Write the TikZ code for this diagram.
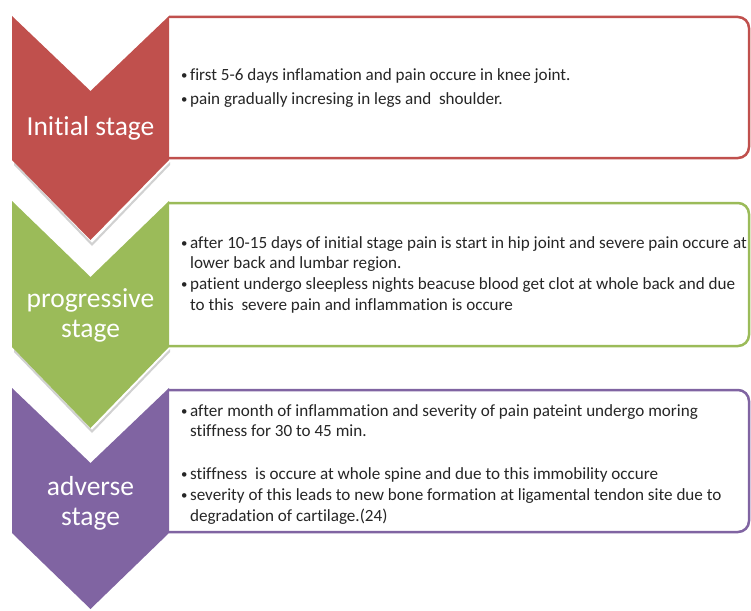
\documentclass[tikz,border=0pt]{standalone}
\usepackage{fontspec}
\setmainfont{Carlito}[Ligatures=NoCommon]
\usepackage{graphicx}
\definecolor{cred}{HTML}{C0504D}
\definecolor{cgreen}{HTML}{9BBB59}
\definecolor{cpurple}{HTML}{8064A2}
\newcommand{\bul}{\raisebox{1pt}{\scalebox{0.75}{\textbullet}}}
\tikzset{
  stagebox/.style={draw=#1, line width=2.5pt, fill=white},
  chevshape/.style={fill=#1},
  chevshadow/.style={fill=black, opacity=0.18},
  stagelabel/.style={text=white, align=center, inner sep=0pt,
    font=\fontsize{27.5}{30}\selectfont},
  bodytext/.style={anchor=base west, inner sep=0pt, text=black!85,
    font=\fontsize{#1}{20.5}\selectfont}
}
\begin{document}
\begin{tikzpicture}[x=1pt,y=-1pt]
\useasboundingbox (0,0) rectangle (751,610);
% boxes (rounded on the right only)
\draw[stagebox=cred] (169,17) [rounded corners=11pt] -- (749,17) -- (749,158) -- (169,158);
\draw[stagebox=cgreen] (169,203) [rounded corners=11pt] -- (749,203) -- (749,346) -- (169,346);
\draw[stagebox=cpurple] (169,390) [rounded corners=11pt] -- (749,390) -- (749,532) -- (169,532);
% chevron shadows
\fill[chevshadow] (14,162) -- (92,243) -- (170,162) -- (170,165) -- (92,246) -- (14,165) -- cycle;
\fill[chevshadow] (14,349) -- (92,430) -- (170,349) -- (170,352) -- (92,433) -- (14,352) -- cycle;
% chevrons
\fill[chevshape=cred] (12,16) -- (90.5,91) -- (169,16) -- (169,160) -- (90.5,240) -- (12,160) -- cycle;
\fill[chevshape=cgreen] (12,201) -- (90.5,277) -- (169,201) -- (169,347) -- (90.5,428) -- (12,347) -- cycle;
\fill[chevshape=cpurple] (12,388) -- (90.5,463) -- (169,388) -- (169,533) -- (90.5,609) -- (12,533) -- cycle;
% labels
\node[stagelabel] (l1) at (90.5,128.5) {Initial stage};
\node[stagelabel] (l2) at (90.5,315) {progressive\\stage};
\node[stagelabel] (l3) at (90.5,503) {adverse\\stage};
% texts
\node[bodytext=17.1] (t1) at (181,80) {\begin{tabular}[t]{@{}l@{\hspace{2.5pt}}l@{}}
\bul & first 5-6 days inflamation and pain occure in knee joint.\\[3.5pt]
\bul & pain gradually incresing in legs and \ shoulder.
\end{tabular}};
\node[bodytext=17.1] (t2) at (181,248) {\begin{tabular}[t]{@{}l@{\hspace{2.5pt}}l@{}}
\bul & after 10-15 days of initial stage pain is start in hip joint and severe pain occure at\\
 & lower back and lumbar region.\\[0.5pt]
\bul & patient undergo sleepless nights beacuse blood get clot at whole back and due\\
 & to this \ severe pain and inflammation is occure
\end{tabular}};
\node[bodytext=17.1] (t3) at (181,416) {\begin{tabular}[t]{@{}l@{\hspace{2.5pt}}l@{}}
\bul & after month of inflammation and severity of pain pateint undergo moring\\
 & stiffness for 30 to 45 min.\\[22pt]
\bul & stiffness \ is occure at whole spine and due to this immobility occure\\[1pt]
\bul & severity of this leads to new bone formation at ligamental tendon site due to\\
 & degradation of cartilage.(24)
\end{tabular}};
\end{tikzpicture}
\end{document}
